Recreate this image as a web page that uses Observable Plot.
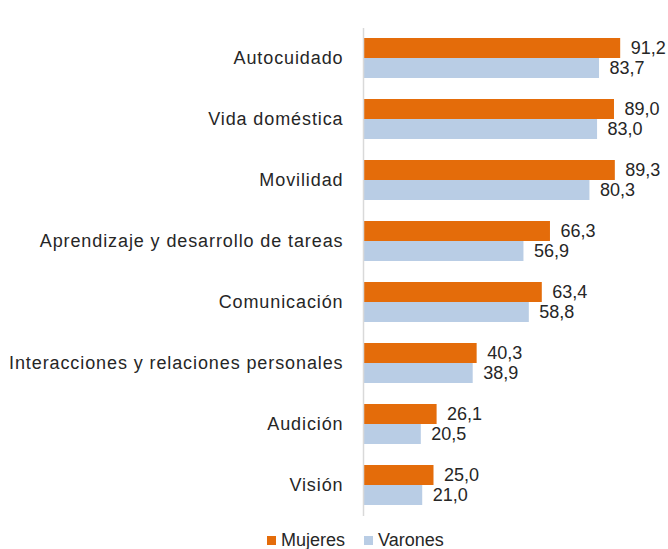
<!DOCTYPE html>
<html><head><meta charset="utf-8">
<script src="https://cdn.jsdelivr.net/npm/d3@7"></script>
<script src="https://cdn.jsdelivr.net/npm/@observablehq/plot@0.6"></script>
<style>
body{margin:0;background:#fff;font-family:"Liberation Sans",Arial,sans-serif;}
#legend{position:absolute;top:530px;left:267px;display:flex;align-items:center;font-size:18px;line-height:20px;color:#262626}
#legend span.sw{display:inline-block;width:9px;height:9px;margin-right:5px}
#legend .item{display:flex;align-items:center;margin-right:19px}
</style></head>
<body>
<div id="chart"></div>
<div id="legend"></div>
<script>
const categories = ["Autocuidado","Vida doméstica","Movilidad","Aprendizaje y desarrollo de tareas","Comunicación","Interacciones y relaciones personales","Audición","Visión"];
const mujeres = [91.2, 89.0, 89.3, 66.3, 63.4, 40.3, 26.1, 25.0];
const varones = [83.7, 83.0, 80.3, 56.9, 58.8, 38.9, 20.5, 21.0];
const seriesNames = ["Mujeres","Varones"];
const colors = ["#E46C0A","#B9CDE5"];

const fmt = v => v.toFixed(1).replace(".", ",");
const dataM = categories.map((c,i)=>({cat:c, v:mujeres[i]}));
const dataV = categories.map((c,i)=>({cat:c, v:varones[i]}));

const chart = Plot.plot({
  width: 668, height: 528,
  marginLeft: 363, marginRight: 23, marginTop: 28, marginBottom: 12,
  style: {fontFamily: "'Liberation Sans', Arial, sans-serif", fontSize: "18px", color: "#262626"},
  x: {domain: [0, 100], axis: null},
  y: {domain: categories, paddingInner: 0.344, paddingOuter: 0.172, axis: null},
  marks: [
    Plot.barX(dataM, {y: "cat", x: "v", fill: colors[0], insetBottom: 20}),
    Plot.barX(dataV, {y: "cat", x: "v", fill: colors[1], insetTop: 20}),
    Plot.axisY({tickSize: 0, tickPadding: 20, fontSize: 18, label: null, fill: "#262626"}),
    Plot.text(dataM, {y: "cat", x: "v", text: d => fmt(d.v), dx: 10, dy: -10, textAnchor: "start", fontSize: 18, fill: "#262626"}),
    Plot.text(dataV, {y: "cat", x: "v", text: d => fmt(d.v), dx: 10, dy: 10, textAnchor: "start", fontSize: 18, fill: "#262626"}),
    Plot.ruleX([0], {stroke: "#d9d9d9", strokeWidth: 1.5}),
  ]
});
chart.querySelectorAll('[aria-label="y-axis tick label"] text').forEach(t=>{t.setAttribute("letter-spacing","0.9");});
document.getElementById("chart").appendChild(chart);

const lg = document.getElementById("legend");
seriesNames.forEach((n,i)=>{
  const it = document.createElement("div"); it.className="item";
  const sw = document.createElement("span"); sw.className="sw"; sw.style.background = colors[i];
  it.appendChild(sw); it.appendChild(document.createTextNode(n)); lg.appendChild(it);
});
</script>
</body></html>
